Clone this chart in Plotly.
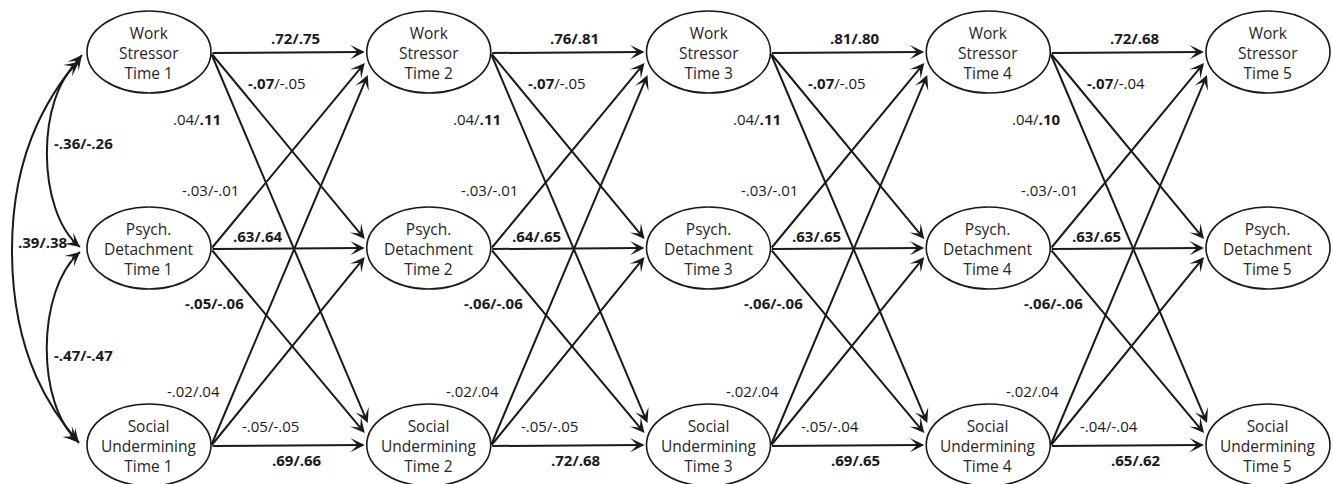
import plotly.graph_objects as go

# ---------------- data ----------------
constructs = ["Work<br>Stressor", "Psych.<br>Detachment", "Social<br>Undermining"]
waves = [1, 2, 3, 4, 5]

# cross-lagged / autoregressive paths (from row -> to row)
path_from = [0, 0, 0, 1, 1, 1, 2, 2, 2]
path_to = [0, 1, 2, 0, 1, 2, 0, 1, 2]

# coefficients: first / second model, per transition
t12_a = [.72, -.07, .04, -.03, .63, -.05, -.02, -.05, .69]
t12_b = [.75, -.05, .11, -.01, .64, -.06, .04, -.05, .66]
t23_a = [.76, -.07, .04, -.03, .64, -.06, -.02, -.05, .72]
t23_b = [.81, -.05, .11, -.01, .65, -.06, .04, -.05, .68]
t34_a = [.81, -.07, .04, -.03, .63, -.06, -.02, -.05, .69]
t34_b = [.80, -.05, .11, -.01, .65, -.06, .04, -.04, .65]
t45_a = [.72, -.07, .04, -.03, .63, -.06, -.02, -.04, .65]
t45_b = [.68, -.04, .10, -.01, .65, -.06, .04, -.04, .62]
# significance (bold) flags
sig_a = [1, 1, 0, 0, 1, 1, 0, 0, 1]
sig_b = [1, 0, 1, 0, 1, 1, 0, 0, 1]

# Time-1 correlations: WS-PD, PD-SU, WS-SU
corr_a = [-.36, -.47, .39]
corr_b = [-.26, -.47, .38]

# ---------------- layout constants ----------------
W, H = 1333, 484
INK = "#1a1a1a"
FONT = "Open Sans"
col_x = [149 + 279.75 * i for i in range(5)]
row_y = [52, 248, 445]
rx, ry = 62, 41
tip_dy = [0, -9, -22, 11, 0, -12, 23, 9, 0]
lab_dx = [146, 128, 48, 61, 108, 65, 44, 121, 147]
lab_y = [38, 83, 119, 190, 236, 303, 391, 426, 460]


def fmt(v):
    s = f"{v:.2f}"
    return s.replace("0.", ".", 1)


def label(a, b, sa, sb):
    if sa and sb:
        return f"<b>{fmt(a)}/{fmt(b)}</b>"
    ta = f"<b>{fmt(a)}</b>" if sa else fmt(a)
    tb = f"<b>{fmt(b)}</b>" if sb else fmt(b)
    return f"{ta}/{tb}"


shapes = []
annotations = []

# nodes
for c, cx in enumerate(col_x):
    for r, cy in enumerate(row_y):
        shapes.append(dict(type="circle", xref="x", yref="y",
                           x0=cx - rx, x1=cx + rx, y0=cy - ry, y1=cy + ry,
                           line=dict(color=INK, width=1.6)))
        annotations.append(dict(x=cx, y=cy + 1, xref="x", yref="y",
                                text=f"{constructs[r]}<br>Time {waves[c]}",
                                showarrow=False,
                                font=dict(family=FONT, size=15.5, color="#262626")))

trans_a = [t12_a, t23_a, t34_a, t45_a]
trans_b = [t12_b, t23_b, t34_b, t45_b]

for k in range(4):
    sx, tx = col_x[k], col_x[k + 1]
    for p in range(9):
        f, t = path_from[p], path_to[p]
        x0, y0 = sx + rx, row_y[f] + 1
        dy = tip_dy[p]
        x1 = tx - (61 if abs(dy) > 15 else 64)
        y1 = row_y[t] + dy
        annotations.append(dict(x=x1, y=y1, ax=x0, ay=y0, xref="x", yref="y",
                                axref="x", ayref="y", text="", showarrow=True,
                                arrowhead=3, arrowsize=1.2, arrowwidth=2.0,
                                arrowcolor=INK, standoff=0))
        annotations.append(dict(x=sx + lab_dx[p], y=lab_y[p], xref="x", yref="y",
                                text=label(trans_a[k][p], trans_b[k][p], sig_a[p], sig_b[p]),
                                showarrow=False,
                                font=dict(family=FONT, size=15, color=INK)))

# curved correlation arrows (cubic bezier segments)
c0 = col_x[0]
curves = [
    # WS1 <-> PD1
    [[(c0 - 70, row_y[0] + 10), (36, 95), (36, 212), (c0 - 69, row_y[1] - 1)]],
    # PD1 <-> SU1
    [[(c0 - 69, row_y[1] + 4), (36, 290), (36, 405), (c0 - 71, row_y[2] - 4)]],
    # WS1 <-> SU1 (outer)
    [[(c0 - 67, row_y[0] + 3), (58, 85), (12, 140), (12, 250)],
     [(12, 250), (12, 360), (55, 415), (c0 - 70, row_y[2] - 2)]],
]
corr_pos = [(c0 - 66, 143), (c0 - 66, 355), (c0 - 107, 242)]

for segs, a, b, pos in zip(curves, corr_a, corr_b, corr_pos):
    path = f"M {segs[0][0][0]},{segs[0][0][1]}"
    for s in segs:
        path += f" C {s[1][0]},{s[1][1]} {s[2][0]},{s[2][1]} {s[3][0]},{s[3][1]}"
    shapes.append(dict(type="path", xref="x", yref="y", path=path,
                       line=dict(color=INK, width=2.0)))
    # arrowheads at both ends
    ends = [(segs[0][0], segs[0][1]), (segs[-1][3], segs[-1][2])]
    for tip, ctrl in ends:
        dx, dy = tip[0] - ctrl[0], tip[1] - ctrl[1]
        n = (dx * dx + dy * dy) ** 0.5
        annotations.append(dict(x=tip[0], y=tip[1], xref="x", yref="y",
                                ax=-dx / n * 12, ay=-dy / n * 12,
                                text="", showarrow=True, arrowhead=3,
                                arrowsize=1.2, arrowwidth=2.0, arrowcolor=INK,
                                standoff=0))
    annotations.append(dict(x=pos[0], y=pos[1], xref="x", yref="y",
                            text=f"<b>{fmt(a)}/{fmt(b)}</b>", showarrow=False,
                            font=dict(family=FONT, size=15, color=INK)))

fig = go.Figure()
fig.update_layout(
    width=W, height=H, autosize=False,
    margin=dict(l=0, r=0, t=0, b=0),
    paper_bgcolor="white", plot_bgcolor="white",
    xaxis=dict(range=[0, W], visible=False, fixedrange=True),
    yaxis=dict(range=[H, 0], visible=False, fixedrange=True),
    shapes=shapes, annotations=annotations, showlegend=False,
)

fig.write_html("out.html", config={"displayModeBar": False, "staticPlot": True},
               post_script="document.body.style.margin='0';document.body.style.overflow='hidden';")
